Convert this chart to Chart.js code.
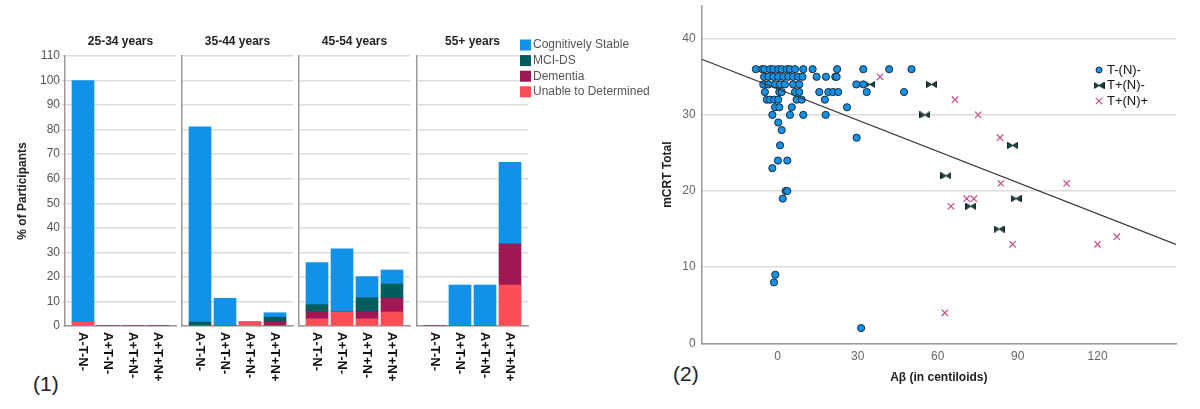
<!DOCTYPE html>
<html lang="en">
<head>
<meta charset="UTF-8">
<title>ATN profiles and mCRT</title>
<script src="https://cdn.jsdelivr.net/npm/chart.js"></script>
<style>
  body { margin: 0; background: #fff; }
  #wrap { position: relative; width: 1200px; height: 409px; overflow: hidden; font-family: "Liberation Sans", Arial, sans-serif; }
  #wrap canvas { position: absolute; top: 0; }
  .tag { position: absolute; font-size: 21px; color: #222; }
</style>
</head>
<body>
<div id="wrap">
  <div class="tag" style="left:33px; top:372px">(1)</div>
  <div class="tag" style="left:673px; top:362px">(2)</div>
</div>

<script>
// ---- panel (1): % of participants per ATN profile, by age group ----
const ageGroups = ['25-34 years', '35-44 years', '45-54 years', '55+ years'];
const profiles = ['A-T-N-', 'A+T-N-', 'A+T+N-', 'A+T+N+'];
const statusNames = ['Cognitively Stable', 'MCI-DS', 'Dementia', 'Unable to Determined'];
// one row per age group, one value per profile
const cognitivelyStable = [[98.5, 0, 0, 0], [79.5, 11.3, 0, 1.8], [17.1, 25.7, 8.6, 5.7], [0, 16.7, 16.7, 33.3]];
const mciDs             = [[0, 0, 0, 0], [1.6, 0, 0, 2.0], [2.9, 0, 5.7, 5.7], [0, 0, 0, 0]];
const dementia          = [[0, 0, 0, 0], [0, 0, 0, 1.6], [2.9, 0, 2.9, 5.7], [0, 0, 0, 16.7]];
const unableToDetermine = [[1.5, 0, 0, 0], [0, 0, 1.6, 0], [2.9, 5.7, 2.9, 5.7], [0, 0, 0, 16.7]];
const percentTicks = [0, 10, 20, 30, 40, 50, 60, 70, 80, 90, 100, 110];

// ---- panel (2): mCRT total vs amyloid (centiloids) ----
const tNegNNeg = [
  [-8.2, 36], [-5.8, 36], [-5, 36], [-2.9, 36], [-1.6, 36], [0.2, 36], [1.5, 36], [3.4, 36], [4.6, 36],
  [6.5, 36], [9.6, 36], [13.1, 36], [22.3, 36], [32.1, 36], [41.8, 36], [50.2, 36],
  [-5.1, 35], [-3.5, 35], [-1.6, 35], [0.2, 35], [2.1, 35], [4.0, 35], [5.8, 35], [7.7, 35], [9.3, 35],
  [14.6, 35], [18.1, 35], [21.6, 35], [22.1, 35],
  [-5.4, 34], [-3.5, 34], [-1, 34], [0.9, 34], [2.7, 34], [5.8, 34], [8.1, 34], [29.5, 34], [32.1, 34],
  [-4.8, 33], [0.6, 33], [1.5, 33], [6.5, 33], [8.1, 33], [15.6, 33], [19, 33], [20.8, 33], [22.7, 33],
  [33.4, 33], [47.4, 33],
  [-4.1, 32], [-2.9, 32], [-1.3, 32], [0.2, 32], [7.1, 32], [9, 32], [17.7, 32],
  [-1, 31], [0.6, 31], [5.3, 31], [26, 31],
  [-2, 30], [4.6, 30], [9.6, 30], [18, 30],
  [0.2, 29], [1.5, 28], [29.6, 27], [0.9, 26], [0.1, 24], [3.6, 24], [-2, 23],
  [3, 20], [3.6, 20], [1.9, 19], [-0.9, 9], [-1.4, 8], [31.3, 2]
];
const tPosNNeg = [[34.6, 34], [57.7, 34], [55.2, 30], [88.1, 26], [63.1, 22], [89.4, 19], [72.4, 18], [83.1, 15]];
const tPosNPos = [
  [38.4, 35], [66.5, 32], [75.2, 30], [83.4, 27], [83.7, 21], [108.4, 21], [70.9, 19], [73.6, 19],
  [65, 18], [88.1, 13], [120, 13], [127.2, 14], [62.7, 4]
];
const fitLine = [[-28.5, 37.3], [149.4, 13.0]];
const centiloidTicks = [0, 30, 60, 90, 120];
const mcrtTicks = [0, 10, 20, 30, 40];

const FONT = '"Liberation Sans", Arial, sans-serif';
const GRID = '#dcdcdc';
const AXIS = '#9a9a9a';
const statusColors = ['#1192e8', '#005d5d', '#9f1853', '#fa4d56'];

const wrap = document.getElementById('wrap');
function addCanvas(left, width) {
  const c = document.createElement('canvas');
  c.width = width; c.height = 409;
  c.style.left = left + 'px';
  wrap.appendChild(c);
  return c;
}
function toPoints(pairs) { return pairs.map(p => ({ x: p[0], y: p[1] })); }

// labels under each facet, reading top to bottom
const profileLabels = {
  id: 'profileLabels',
  afterDraw(chart) {
    const { ctx, chartArea, scales } = chart;
    ctx.save();
    ctx.font = 'bold 13px ' + FONT;
    ctx.fillStyle = '#111';
    ctx.textAlign = 'left';
    ctx.textBaseline = 'middle';
    profiles.forEach((p, i) => {
      ctx.save();
      ctx.translate(scales.x.getPixelForValue(i + 1), chartArea.bottom + 6);
      ctx.rotate(Math.PI / 2);
      ctx.fillText(p, 0, 0);
      ctx.restore();
    });
    ctx.restore();
  }
};

const statusLegend = {
  id: 'statusLegend',
  afterDraw(chart) {
    const { ctx, chartArea } = chart;
    const x = chartArea.right - 8;
    ctx.save();
    ctx.font = '12px ' + FONT;
    ctx.textBaseline = 'middle';
    statusNames.forEach((name, i) => {
      const y = chartArea.top - 11 + i * 15.6;
      ctx.fillStyle = statusColors[i];
      ctx.fillRect(x, y - 5.5, 11, 11);
      ctx.fillStyle = '#555';
      ctx.fillText(name, x + 13, y);
    });
    ctx.restore();
  }
};

const facetLeft = [65, 182, 299, 417];
const facetWidth = 111;
const stackOrder = [unableToDetermine, dementia, mciDs, cognitivelyStable];
const stackNames = [statusNames[3], statusNames[2], statusNames[1], statusNames[0]];
const stackColors = [statusColors[3], statusColors[2], statusColors[1], statusColors[0]];

ageGroups.forEach((age, k) => {
  const first = k === 0;
  const last = k === ageGroups.length - 1;
  const canvasLeft = first ? 0 : facetLeft[k] - 6;
  const canvasWidth = last ? 660 - canvasLeft : (first ? 178 : facetWidth + 12);
  const axisWidth = first ? 65 : 0;
  const padLeft = facetLeft[k] - canvasLeft - axisWidth;
  const padRight = canvasWidth - (facetLeft[k] - canvasLeft) - facetWidth;
  const canvas = addCanvas(canvasLeft, canvasWidth);

  new Chart(canvas, {
    type: 'bar',
    data: {
      datasets: stackOrder.map((rows, s) => ({
        label: stackNames[s],
        data: rows[k].map((v, i) => ({ x: i + 1, y: v })),
        backgroundColor: stackColors[s],
        borderWidth: 0,
        barThickness: 22,
        stack: 'all'
      }))
    },
    options: {
      responsive: false,
      animation: false,
      events: [],
      layout: { padding: { left: padLeft, right: padRight, top: 34.8, bottom: 0 } },
      plugins: {
        legend: { display: false },
        tooltip: { enabled: false },
        title: {
          display: true, text: age, fullSize: false,
          color: '#222', font: { family: FONT, size: 12, weight: 'bold' },
          padding: { top: 0, bottom: 6.8 }
        }
      },
      scales: {
        x: {
          type: 'linear', min: 0.28, max: 4.72, offset: false,
          ticks: { display: false },
          grid: { display: false },
          border: { color: AXIS, width: 1.5 },
          afterFit(s) { s.height = 83; s.paddingLeft = 0; s.paddingRight = 0; }
        },
        y: {
          stacked: true, min: 0, max: 110,
          afterBuildTicks(s) { s.ticks = percentTicks.map(v => ({ value: v })); },
          ticks: { display: first, color: '#555', padding: 2, font: { family: FONT, size: 12 } },
          grid: { color: GRID, lineWidth: 1.5, drawTicks: first, tickLength: 3 },
          border: { color: AXIS, width: 1.5 },
          title: {
            display: first, text: '% of Participants', color: '#222',
            font: { family: FONT, size: 12, weight: 'bold' },
            padding: { top: 15.8, bottom: 0 }
          },
          afterFit(s) { s.width = axisWidth; s.paddingTop = 0; s.paddingBottom = 0; }
        }
      }
    },
    plugins: last ? [profileLabels, statusLegend] : [profileLabels]
  });
});

// ---- scatter ----
function makeBowtie() {
  const c = document.createElement('canvas');
  c.width = 11; c.height = 7;
  const g = c.getContext('2d');
  g.fillStyle = '#0d4f4f';
  g.strokeStyle = '#1a1a1a';
  g.lineWidth = 1;
  g.beginPath();
  g.moveTo(0.5, 0.5); g.lineTo(5.5, 3.5); g.lineTo(0.5, 6.5); g.closePath();
  g.moveTo(10.5, 0.5); g.lineTo(5.5, 3.5); g.lineTo(10.5, 6.5); g.closePath();
  g.fill(); g.stroke();
  return c;
}
const bowtie = makeBowtie();

const markerLegend = {
  id: 'markerLegend',
  afterDatasetsDraw(chart) {
    const { ctx, chartArea } = chart;
    const x = chartArea.right - 77;
    ctx.save();
    ctx.font = '13px ' + FONT;
    ctx.textBaseline = 'middle';
    chart.data.datasets.filter(d => d.label).forEach((d, i) => {
      const y = chartArea.top + 64 + i * 15.5;
      ctx.fillStyle = d.backgroundColor;
      ctx.strokeStyle = d.borderColor;
      ctx.lineWidth = d.borderWidth;
      if (Chart.helpers && Chart.helpers.drawPoint) {
        Chart.helpers.drawPoint(ctx, {
          pointStyle: d.pointStyle, rotation: 0,
          radius: d.pointStyle === 'circle' ? 3 : d.pointRadius, borderWidth: d.borderWidth
        }, x, y);
      }
      ctx.fillStyle = '#111';
      ctx.fillText(d.label, x + 8, y);
    });
    ctx.restore();
  }
};

new Chart(addCanvas(640, 560), {
  type: 'scatter',
  data: {
    datasets: [
      {
        data: toPoints(fitLine), showLine: true, pointRadius: 0,
        borderColor: '#333', borderWidth: 1.2, order: 0
      },
      {
        label: 'T-(N)-', data: toPoints(tNegNNeg), pointStyle: 'circle', pointRadius: 3.6,
        backgroundColor: '#1192e8', borderColor: '#1c2a38', borderWidth: 1, order: 1
      },
      {
        label: 'T+(N)-', data: toPoints(tPosNNeg), pointStyle: bowtie, pointRadius: 5,
        backgroundColor: '#0d4f4f', borderColor: '#1a1a1a', borderWidth: 1, order: 1
      },
      {
        label: 'T+(N)+', data: toPoints(tPosNPos), pointStyle: 'crossRot', pointRadius: 4.5,
        backgroundColor: '#c4508a', borderColor: '#c4508a', borderWidth: 1.2, order: 1
      }
    ]
  },
  options: {
    responsive: false,
    animation: false,
    events: [],
    layout: { padding: { left: 0, right: 24, top: 5, bottom: 0 } },
    plugins: { legend: { display: false }, tooltip: { enabled: false } },
    scales: {
      x: {
        min: -28.5, max: 149.4,
        afterBuildTicks(s) { s.ticks = centiloidTicks.map(v => ({ value: v })); },
        ticks: { color: '#666', padding: 6, font: { family: FONT, size: 12 } },
        grid: { display: false, drawTicks: false },
        border: { color: AXIS, width: 1.5 },
        title: {
          display: true, text: 'Aβ (in centiloids)', color: '#222',
          font: { family: FONT, size: 12, weight: 'bold' },
          padding: { top: 0, bottom: 23.8 }
        },
        afterFit(s) { s.height = 65.7; s.paddingLeft = 0; s.paddingRight = 0; }
      },
      y: {
        min: 0, max: 44.3,
        afterBuildTicks(s) { s.ticks = mcrtTicks.map(v => ({ value: v })); },
        ticks: { color: '#666', padding: 6, font: { family: FONT, size: 12 } },
        grid: { color: GRID, lineWidth: 1.5, drawTicks: false },
        border: { color: AXIS, width: 1.5 },
        title: {
          display: true, text: 'mCRT Total', color: '#222',
          font: { family: FONT, size: 12, weight: 'bold' },
          padding: { top: 20.8, bottom: 0 }
        },
        afterFit(s) { s.width = 61.7; s.paddingTop = 0; s.paddingBottom = 0; }
      }
    }
  },
  plugins: [markerLegend]
});
</script>
</body>
</html>
